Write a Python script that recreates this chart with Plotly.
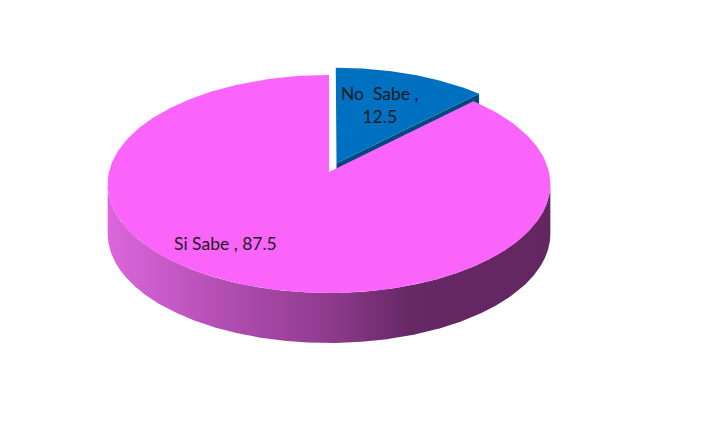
import numpy as np
import plotly.graph_objects as go

# Survey answers
labels = ["No  Sabe", "Si Sabe"]
values = [12.5, 87.5]
top_colors = ["#0070C0", "#FA64FA"]
edge_colors = ["#00497D", "#8C3A8C"]
explode = [0.09, 0.0]

# Projection of the tilted disc (light perspective: back is flatter than front)
CX, CY = 329.0, 172.0
A, K, E = 220.0, 107.7, -0.11
DEPTH = 50.0


def proj(u, v, drop=0.0):
    u = np.asarray(u, dtype=float)
    v = np.asarray(v, dtype=float)
    den = 1.0 + E * v
    return CX + A * u / den, CY + K * v / den + drop


def rim(theta_deg, du=0.0, dv=0.0, drop=0.0):
    t = np.radians(theta_deg)
    return proj(np.sin(t) + du, -np.cos(t) + dv, drop)


total = float(sum(values))
bounds = np.concatenate([[0.0], np.cumsum(values) / total * 360.0])

side_traces, top_traces = [], []
for i, (lab, val) in enumerate(zip(labels, values)):
    t0, t1 = bounds[i], bounds[i + 1]
    mid = np.radians((t0 + t1) / 2)
    du, dv = explode[i] * np.sin(mid), -explode[i] * np.cos(mid)
    arc = np.linspace(t0, t1, 240)

    # top face
    ax, ay = rim(arc, du, dv)
    cx0, cy0 = proj(du, dv)
    top_traces.append(go.Scatter(
        x=np.concatenate([[cx0], ax, [cx0]]), y=np.concatenate([[cy0], ay, [cy0]]),
        mode="lines", fill="toself", fillcolor=top_colors[i],
        line=dict(width=0), hoverinfo="skip"))

    if explode[i] > 0:
        # cut face along the closing radius
        ex, ey = rim(t1, du, dv)
        qx = [cx0, float(ex), float(ex), cx0, cx0]
        qy = [cy0, float(ey), float(ey) + DEPTH, cy0 + DEPTH, cy0]
        side_traces.append(go.Scatter(
            x=qx, y=qy, mode="lines", fill="toself", fillcolor=edge_colors[i],
            line=dict(width=0), hoverinfo="skip"))
    else:
        # curved outer wall between the two silhouette points
        fine = np.linspace(t0, t1, 2000)
        fx, fy = rim(fine, du, dv)
        iR, iL = int(np.argmax(fx)), int(np.argmin(fx))
        seg = fine[iR:iL + 1]
        tx, ty = rim(seg, du, dv)
        bx, by = rim(seg[::-1], du, dv, DEPTH)
        side_traces.append(go.Scatter(
            x=np.concatenate([tx, bx, [tx[0]]]), y=np.concatenate([ty, by, [ty[0]]]),
            mode="lines", fill="toself",
            fillgradient=dict(type="horizontal", colorscale=[
                [0.0, "#DC66DC"], [0.25, "#B44FB4"], [0.5, "#8E3B8E"],
                [0.68, "#672866"], [1.0, "#622660"]]),
            line=dict(width=0), hoverinfo="skip"))

fig = go.Figure(side_traces + top_traces)

label_pos = [(380, 105), (225, 243)]
for (lx, ly), lab, val in zip(label_pos, labels, values):
    text = f"{lab} ,<br>{val}" if lab.startswith("No") else f"{lab} , {val}"
    fig.add_annotation(x=lx, y=ly, text=text, showarrow=False,
                       font=dict(family="Lato", size=17.5, color="#1C1C1C"),
                       xanchor="center", yanchor="middle")

fig.update_layout(
    width=704, height=421, margin=dict(l=0, r=0, t=0, b=0),
    paper_bgcolor="white", plot_bgcolor="white", showlegend=False,
    xaxis=dict(range=[0, 704], visible=False, fixedrange=True),
    yaxis=dict(range=[421, 0], visible=False, fixedrange=True),
)

fig.write_html("out.html")
